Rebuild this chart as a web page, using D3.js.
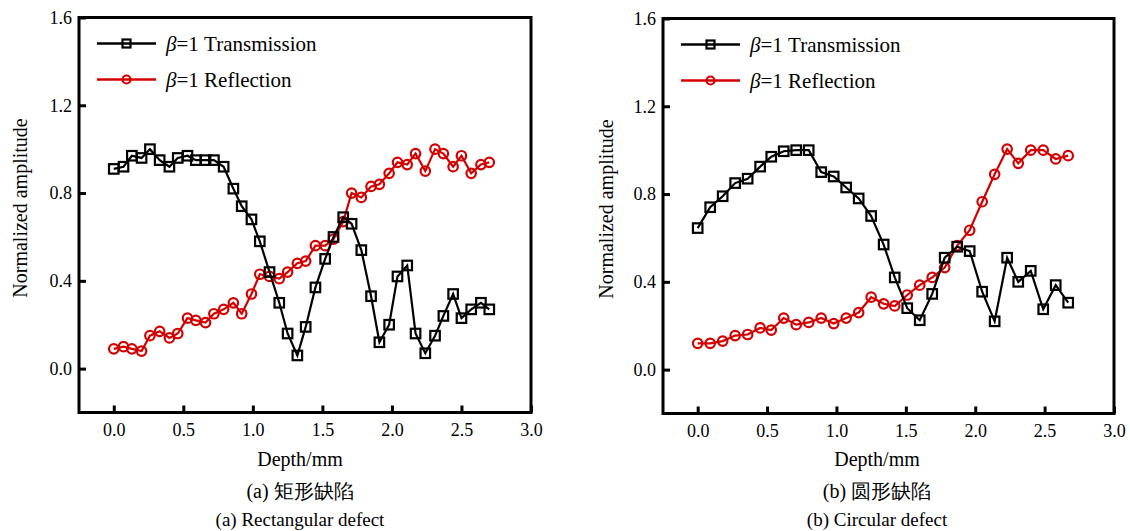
<!DOCTYPE html>
<html>
<head>
<meta charset="utf-8">
<script src="https://cdn.jsdelivr.net/npm/d3@7"></script>
<style>
  body { margin: 0; background: #fff; }
  svg text { font-family: "Liberation Serif", "Times New Roman", Times, "DejaVu Serif", serif; fill: #000; }
</style>
</head>
<body>
<div id="chart"></div>
<script>
// Depth samples (mm) and normalized amplitudes

// (a) rectangular defect
let depthA = [0.00, 0.07, 0.13, 0.20, 0.26, 0.33, 0.40, 0.46, 0.53, 0.59,
  0.66, 0.72, 0.79, 0.86, 0.92, 0.99, 1.05, 1.12, 1.19, 1.25,
  1.32, 1.38, 1.45, 1.52, 1.58, 1.65, 1.71, 1.78, 1.85, 1.91,
  1.98, 2.04, 2.11, 2.17, 2.24, 2.31, 2.37, 2.44, 2.50, 2.57,
  2.64, 2.70];
let transA = [0.91, 0.92, 0.97, 0.96, 1.00, 0.95, 0.92, 0.96, 0.97, 0.95,
  0.95, 0.95, 0.92, 0.82, 0.74, 0.68, 0.58, 0.44, 0.30, 0.16,
  0.06, 0.19, 0.37, 0.50, 0.60, 0.69, 0.66, 0.54, 0.33, 0.12,
  0.20, 0.42, 0.47, 0.16, 0.07, 0.15, 0.24, 0.34, 0.23, 0.27,
  0.30, 0.27];
let reflA = [0.09, 0.10, 0.09, 0.08, 0.15, 0.17, 0.14, 0.16, 0.23, 0.22,
  0.21, 0.25, 0.27, 0.30, 0.25, 0.34, 0.43, 0.42, 0.41, 0.44,
  0.48, 0.49, 0.56, 0.56, 0.59, 0.67, 0.80, 0.78, 0.83, 0.84,
  0.89, 0.94, 0.93, 0.98, 0.90, 1.00, 0.98, 0.92, 0.97, 0.89,
  0.93, 0.94];

// (b) circular defect
let depthB = [0.00, 0.09, 0.18, 0.27, 0.36, 0.45, 0.53, 0.62, 0.71, 0.80,
  0.89, 0.98, 1.07, 1.16, 1.25, 1.34, 1.42, 1.51, 1.60, 1.69,
  1.78, 1.87, 1.96, 2.05, 2.14, 2.23, 2.31, 2.40, 2.49, 2.58,
  2.67];
let transB = [0.645, 0.74, 0.79, 0.85, 0.87, 0.925, 0.97, 0.995, 1.00, 1.00,
  0.90, 0.88, 0.83, 0.78, 0.70, 0.57, 0.42, 0.28, 0.225, 0.345,
  0.51, 0.56, 0.54, 0.355, 0.22, 0.51, 0.40, 0.45, 0.275, 0.385,
  0.305];
let reflB = [0.12, 0.12, 0.13, 0.155, 0.16, 0.19, 0.18, 0.235, 0.205, 0.215,
  0.235, 0.21, 0.235, 0.26, 0.33, 0.30, 0.29, 0.34, 0.385, 0.42,
  0.465, 0.565, 0.635, 0.765, 0.89, 1.005, 0.94, 1.00, 1.00, 0.96,
  0.975];

let xTicks = [0, 0.5, 1.0, 1.5, 2.0, 2.5, 3.0];
let yTicks = [0, 0.4, 0.8, 1.2, 1.6];
let seriesNames = ["Transmission", "Reflection"];
let seriesColors = ["#000000", "#d40000"];

let width = 1130;
let height = 531;

let svg = d3.select("#chart")
  .append("svg")
  .attr("width", width).attr("height", height);

// panel layout
let panels = [
  { left: 79, top: 17.5, w: 452, h: 395, depth: depthA, trans: transA, refl: reflA,
    yTitleX: 20, capX: 300, capCn: "(a) 矩形缺陷", capEn: "(a) Rectangular defect" },
  { left: 663, top: 18.5, w: 451, h: 395, depth: depthB, trans: transB, refl: reflB,
    yTitleX: 606, capX: 877, capCn: "(b) 圆形缺陷", capEn: "(b) Circular defect" }
];

function drawMarkers(g, pts, kind, color, size) {
  if (kind == "square") {
    g.selectAll(null).data(pts).enter()
      .append("rect")
      .attr("x", d => d[0] - size / 2).attr("y", d => d[1] - size / 2)
      .attr("width", size).attr("height", size)
      .style("fill", "none").style("stroke", color).style("stroke-width", 2.2);
  } else {
    g.selectAll(null).data(pts).enter()
      .append("circle")
      .attr("cx", d => d[0]).attr("cy", d => d[1])
      .attr("r", size / 2)
      .style("fill", "none").style("stroke", color).style("stroke-width", 2.2);
  }
}

panels.forEach(function(p) {
  let g = svg.append("g").attr("transform", "translate(" + p.left + "," + p.top + ")");

  let xScale = d3.scaleLinear().domain([-0.25, 3.0]).range([0, p.w]);
  let yScale = d3.scaleLinear().domain([-0.2, 1.6]).range([p.h, 0]);

  // axes with inward ticks
  let xAxis = d3.axisBottom(xScale).tickValues(xTicks)
    .tickFormat(d3.format(".1f")).tickSizeInner(-7).tickSizeOuter(0).tickPadding(11);
  let yAxis = d3.axisLeft(yScale).tickValues(yTicks)
    .tickFormat(d3.format(".1f")).tickSizeInner(-7).tickSizeOuter(0).tickPadding(7);

  let gx = g.append("g").attr("transform", "translate(0," + p.h + ")").call(xAxis);
  let gy = g.append("g").call(yAxis);
  [gx, gy].forEach(function(a) {
    a.attr("font-family", null);
    a.select(".domain").remove();
    a.selectAll("line").style("stroke", "#000").style("stroke-width", 3);
    a.selectAll("text").style("font-size", "18px");
  });

  // frame
  g.append("rect")
    .attr("width", p.w).attr("height", p.h)
    .style("fill", "none").style("stroke", "#000").style("stroke-width", 3);

  let line = d3.line().x(d => xScale(d[0])).y(d => yScale(d[1]));

  let series = [
    { vals: p.trans, kind: "square", color: seriesColors[0] },
    { vals: p.refl, kind: "circle", color: seriesColors[1] }
  ];
  // reflection drawn first, transmission on top
  [series[1], series[0]].forEach(function(s) {
    let pts = p.depth.map((d, i) => [d, s.vals[i]]);
    g.append("path")
      .attr("d", line(pts))
      .style("fill", "none").style("stroke", s.color).style("stroke-width", 2.2);
    drawMarkers(g, pts.map(d => [xScale(d[0]), yScale(d[1])]), s.kind, s.color, 9.5);
  });

  // legend
  let lg = g.append("g").attr("transform", "translate(18,26)");
  series.forEach(function(s, i) {
    let row = lg.append("g").attr("transform", "translate(0," + (i * 36) + ")");
    row.append("line").attr("x1", 0).attr("x2", 59).attr("y1", 0).attr("y2", 0)
      .style("stroke", s.color).style("stroke-width", 2.5);
    drawMarkers(row, [[29.5, 0]], s.kind, s.color, 8);
    let t = row.append("text").attr("x", 69).attr("y", 7).style("font-size", "21px");
    t.append("tspan").style("font-style", "italic").text("β");
    t.append("tspan").text("=1 " + seriesNames[i]);
  });

  // axis titles
  g.append("text")
    .attr("transform", "translate(" + (p.yTitleX - p.left) + "," + (p.h / 2 - 7) + ") rotate(-90)")
    .attr("text-anchor", "middle").attr("dominant-baseline", "central")
    .style("font-size", "20px")
    .text("Normalized amplitude");

  let capX = p.capX - p.left;
  g.append("text").attr("x", capX).attr("y", 466 - p.top)
    .attr("text-anchor", "middle").style("font-size", "20px").text("Depth/mm");
  g.append("text").attr("x", capX).attr("y", 498 - p.top)
    .attr("text-anchor", "middle").style("font-size", "20px")
    .text(p.capCn);
  g.append("text").attr("x", capX).attr("y", 526 - p.top)
    .attr("text-anchor", "middle").style("font-size", "19px").text(p.capEn);
});
</script>
</body>
</html>
